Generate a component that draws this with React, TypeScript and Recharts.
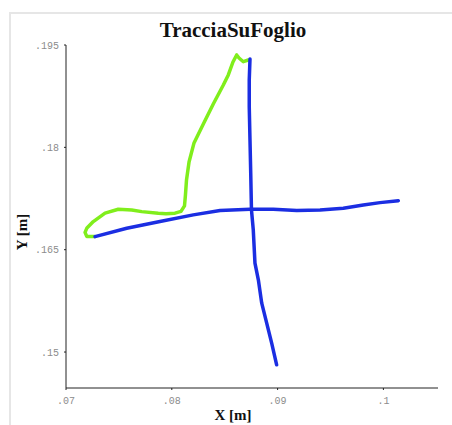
import { ComposedChart, Line, XAxis, YAxis } from "recharts";

// pen traces, metres
const greenX = [0.08723, 0.08676, 0.08635, 0.08613, 0.08578, 0.08534, 0.08487, 0.08392, 0.08298, 0.0821, 0.08163, 0.08139, 0.08129, 0.0812, 0.08087, 0.0803, 0.07945, 0.07872, 0.07716, 0.07621, 0.07494, 0.07369, 0.07258, 0.07198, 0.0718, 0.07196, 0.07274];
const greenY = [0.1928, 0.19255, 0.1931, 0.19354, 0.19251, 0.19061, 0.18914, 0.18636, 0.18343, 0.18065, 0.17786, 0.17523, 0.17303, 0.17142, 0.17061, 0.17035, 0.17028, 0.17035, 0.17058, 0.17083, 0.17093, 0.17035, 0.16912, 0.16819, 0.16754, 0.16695, 0.16692];

const blueHX = [0.07274, 0.07574, 0.07888, 0.08203, 0.08456, 0.08739, 0.08959, 0.09181, 0.09401, 0.09621, 0.0981, 0.09968, 0.10141];
const blueHY = [0.16692, 0.16815, 0.16912, 0.1701, 0.17073, 0.17093, 0.17093, 0.17073, 0.17083, 0.17108, 0.17156, 0.1719, 0.17219];

const blueVX = [0.08739, 0.08732, 0.08732, 0.08739, 0.08746, 0.08753, 0.0877, 0.08786, 0.08818, 0.0885, 0.08897, 0.08944, 0.08991];
const blueVY = [0.19295, 0.18987, 0.18596, 0.18108, 0.17621, 0.17083, 0.1679, 0.16302, 0.16058, 0.15716, 0.15423, 0.15131, 0.14813];

const xTicks = [0.07, 0.08, 0.09, 0.1];
const yTicks = [0.15, 0.165, 0.18, 0.195];

const toPoints = (xs: number[], ys: number[]) => xs.map((x, i) => ({ x, y: ys[i] }));

const green = toPoints(greenX, greenY);
const blueH = toPoints(blueHX, blueHY);
const blueV = toPoints(blueVX, blueVY);

// ".07" style labels, no leading zero
const fmt = (v: number) => String(+v.toFixed(3)).replace(/^0/, "");

const tickStyle = { fill: "#8c8c8c", fontSize: 10, fontFamily: "Liberation Mono, monospace" };
const serif = "Liberation Serif, Times New Roman, serif";

export default function App() {
  return (
    <div style={{ position: "absolute", left: 0, top: 0, width: 452, height: 425, overflow: "hidden", background: "#fff" }}>
      <div style={{ position: "absolute", left: 9, top: 12, width: 470, height: 440, border: "2px solid #e6e6e6" }} />
      <div
        style={{
          position: "absolute",
          left: 0,
          top: 18,
          width: 466,
          textAlign: "center",
          fontFamily: serif,
          fontWeight: "bold",
          fontSize: 21,
          color: "#111",
        }}
      >
        TracciaSuFoglio
      </div>
      <ComposedChart width={452} height={425} margin={{ top: 45, right: 14, left: 6, bottom: 0 }} style={{ position: "absolute", left: 0, top: 0 }}>
        <XAxis
          type="number"
          dataKey="x"
          domain={[0.07, 0.10516]}
          allowDataOverflow
          ticks={xTicks}
          tickFormatter={fmt}
          height={37}
          tick={tickStyle}
          tickSize={2}
          tickMargin={7}
          stroke="#222"
          label={{
            content: () => (
              <text x={233} y={420} textAnchor="middle" fontFamily={serif} fontWeight="bold" fontSize={15} fill="#111">
                X [m]
              </text>
            ),
          }}
        />
        <YAxis
          type="number"
          dataKey="y"
          domain={[0.14473, 0.195]}
          allowDataOverflow
          ticks={yTicks}
          tickFormatter={fmt}
          width={60}
          tick={tickStyle}
          tickSize={2}
          tickMargin={5}
          stroke="#222"
          label={{
            content: () => (
              <text
                x={22}
                y={232}
                transform="rotate(-90 22 232)"
                textAnchor="middle"
                dominantBaseline="central"
                fontFamily={serif}
                fontWeight="bold"
                fontSize={15}
                fill="#111"
              >
                Y [m]
              </text>
            ),
          }}
        />
        <Line data={green} dataKey="y" type="linear" stroke="#80ee1c" strokeWidth={3.5} dot={false} activeDot={false} strokeLinecap="round" strokeLinejoin="round" isAnimationActive={false} />
        <Line data={blueH} dataKey="y" type="linear" stroke="#1b2ee2" strokeWidth={3.5} dot={false} activeDot={false} strokeLinecap="round" strokeLinejoin="round" isAnimationActive={false} />
        <Line data={blueV} dataKey="y" type="linear" stroke="#1b2ee2" strokeWidth={3.5} dot={false} activeDot={false} strokeLinecap="round" strokeLinejoin="round" isAnimationActive={false} />
      </ComposedChart>
    </div>
  );
}
